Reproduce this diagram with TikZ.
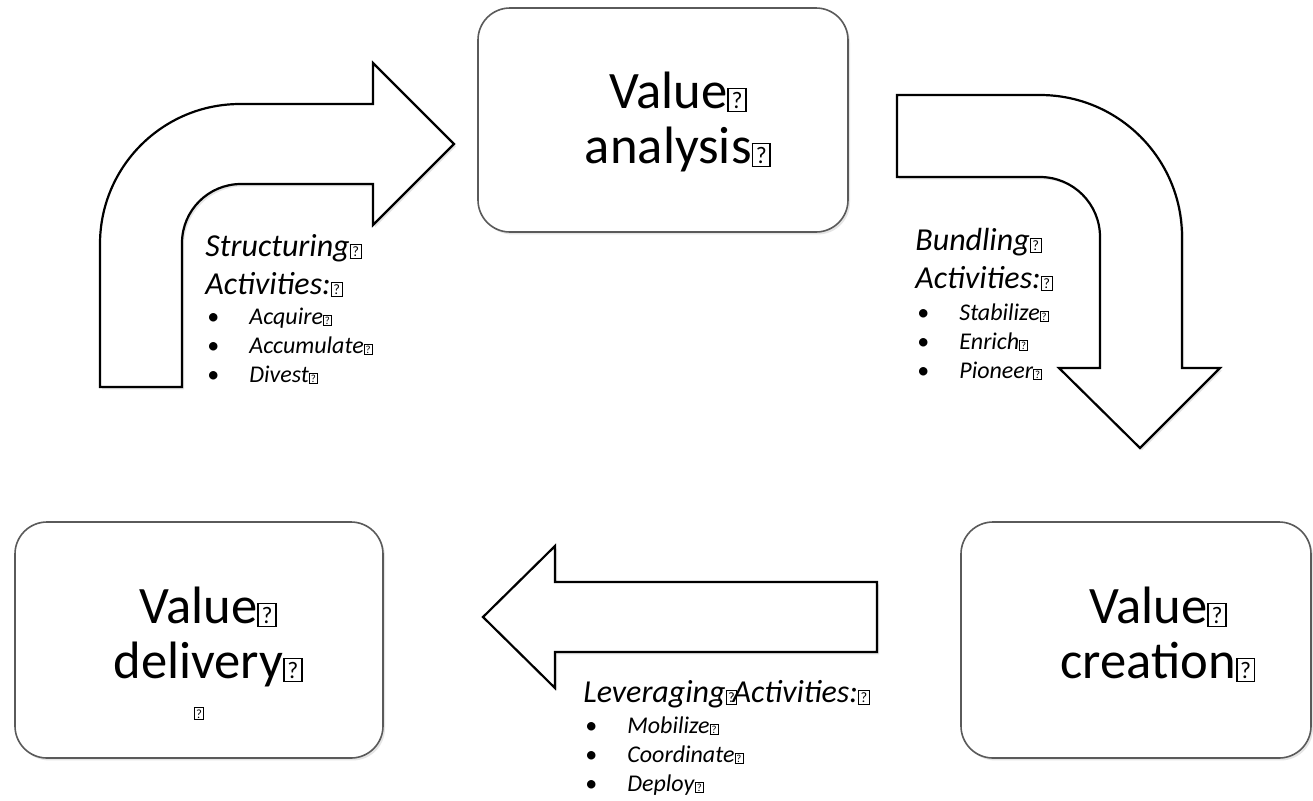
\documentclass[tikz,border=0pt]{standalone}
\usepackage{fontspec}
\setmainfont{Carlito}
\usepackage{graphicx}
\usetikzlibrary{shadows}
\definecolor{boxline}{HTML}{5A5A5A}

% missing-glyph box, as printed in the source
\newcommand{\nog}{\begingroup\setlength{\fboxsep}{0.05em}\setlength{\fboxrule}{0.03em}\fbox{\upshape\scalebox{0.45}{?}}\endgroup}
\newcommand{\acthead}[1]{\smash{\fontsize{16}{19}\selectfont\itshape #1}}
\newcommand{\actitem}[1]{\makebox[22pt][l]{\hspace{1pt}\textbullet}\textit{#1}\nog}

\begin{document}
\begin{tikzpicture}[x=0.5pt, y=-0.5pt,
    valbox/.style={draw=boxline, line width=0.8pt, rounded corners=16pt, fill=white,
      drop shadow={shadow xshift=1pt, shadow yshift=-1.2pt, opacity=0.25, fill=black!40}},
    blockarrow/.style={draw=black, line width=1.1pt, fill=white, line join=miter,
      drop shadow={shadow xshift=1pt, shadow yshift=-1.2pt, opacity=0.25, fill=black!40}},
    valtext/.style={font=\fontsize{26.3}{27.5}\selectfont, inner sep=0pt, anchor=base},
    acttext/.style={font=\fontsize{12}{14.5}\selectfont, inner sep=0pt, anchor=base west}]
  \path[use as bounding box, fill=white] (0,0) rectangle (1313,800);

  % Value boxes
  \node[valbox, minimum width=185pt, minimum height=112pt] (analysis) at (663,120) {};
  \node[valbox, minimum width=184pt, minimum height=118pt] (delivery) at (199,640) {};
  \node[valbox, minimum width=175pt, minimum height=118pt] (creation) at (1136,640) {};

  \node[valtext] (analysis-t) at (678,108) {\begin{tabular}[t]{@{}c@{}}Value\nog\\analysis\nog\end{tabular}};
  \node[valtext] (delivery-t) at (208,623) {\begin{tabular}[t]{@{}c@{}}Value\nog\\delivery\nog\\[-7.5pt]{\fontsize{14}{17}\selectfont\nog\kern9pt}\end{tabular}};
  \node[valtext] (creation-t) at (1158,623) {\begin{tabular}[t]{@{}c@{}}Value\nog\\creation\nog\end{tabular}};

  % Structuring arrow (up and right)
  \draw[blockarrow] (100,387) -- (100,244) arc[start angle=180, end angle=90, radius=70pt]
    -- (373,104) -- (373,63) -- (454,144) -- (373,225) -- (373,184) -- (241,184)
    arc[start angle=90, end angle=180, radius=29.5pt] -- (182,387) -- cycle;

  % Bundling arrow (right and down)
  \draw[blockarrow] (897,95) -- (1040,95) arc[start angle=90, end angle=0, radius=71pt]
    -- (1182,368) -- (1220,368) -- (1140,448) -- (1059,368) -- (1100,368) -- (1100,237)
    arc[start angle=0, end angle=90, radius=30pt] -- (897,177) -- cycle;

  % Leveraging arrow (left)
  \draw[blockarrow] (877,582) -- (555,582) -- (555,546) -- (483,617) -- (555,688)
    -- (555,652) -- (877,652) -- cycle;

  % Activities
  \node[acttext] (structuring) at (205,256) {\begin{tabular}[t]{@{}l@{}}
    \acthead{Structuring\nog}\\[4.5pt]
    \acthead{Activities:\nog}\\[0.5pt]
    \actitem{Acquire}\\
    \actitem{Accumulate}\\
    \actitem{Divest}
  \end{tabular}};
  \node[acttext] (bundling) at (915,250) {\begin{tabular}[t]{@{}l@{}}
    \acthead{Bundling\nog}\\[4.5pt]
    \acthead{Activities:\nog}\\[1.5pt]
    \actitem{Stabilize}\\
    \actitem{Enrich}\\
    \actitem{Pioneer}
  \end{tabular}};
  \node[acttext] (leveraging) at (583,702) {\begin{tabular}[t]{@{}l@{}}
    \acthead{Leveraging\nog\kern-0.15em Activities:\nog}\\[1pt]
    \actitem{Mobilize}\\
    \actitem{Coordinate}\\
    \actitem{Deploy}
  \end{tabular}};
\end{tikzpicture}
\end{document}
